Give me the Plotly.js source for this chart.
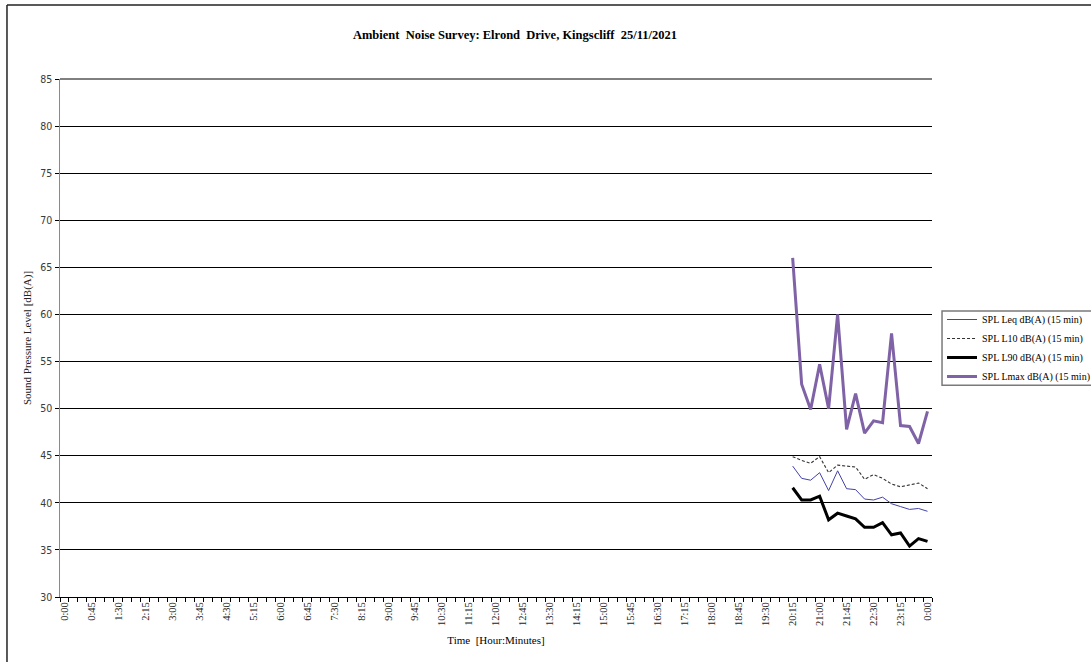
<!DOCTYPE html>
<html>
<head>
<meta charset="utf-8">
<script src="https://cdn.plot.ly/plotly-3.0.1.min.js"></script>
<style>
html,body{margin:0;padding:0;background:#fff;}
#chart{width:1091px;height:662px;}
</style>
</head>
<body>
<div id="chart"></div>
<script>
// Measurement times (15-minute intervals); "24:00" is midnight at the end of the day
const times = ["20:15","20:30","20:45","21:00","21:15","21:30","21:45","22:00",
               "22:15","22:30","22:45","23:00","23:15","23:30","23:45","24:00"];

const leq  = [43.9,42.6,42.4,43.2,41.3,43.4,41.5,41.4,40.4,40.3,40.6,39.9,39.6,39.3,39.4,39.1];
const l10  = [44.9,44.5,44.2,44.9,43.2,44.0,43.9,43.8,42.5,43.0,42.6,42.0,41.7,41.9,42.1,41.5];
const l90  = [41.6,40.3,40.3,40.7,38.2,38.9,38.6,38.3,37.4,37.4,37.9,36.6,36.8,35.4,36.2,35.9];
const lmax = [66.0,52.6,49.9,54.7,50.0,60.0,47.8,51.6,47.4,48.7,48.5,58.0,48.2,48.1,46.3,49.7];

const seriesNames = ["SPL Leq dB(A) (15 min)","SPL L10 dB(A) (15 min)",
                     "SPL L90 dB(A) (15 min)","SPL Lmax dB(A) (15 min)"];

// category axis: every 15 minutes from 0:00 to 24:00 (shown as 0:00)
const slots = [];
for (let m = 0; m <= 24*60; m += 15) {
  slots.push(Math.floor(m/60) + ":" + String(m%60).padStart(2,"0"));
}
const slotLabels = slots.map((s,i) => (i % 3 === 0) ? (s === "24:00" ? "0:00" : s) : "");

const yMin = 30, yMax = 85;

const serif = "Liberation Serif, Times New Roman, serif";

const traces = [
  {x: times, y: leq,  name: seriesNames[0], mode: "lines", line: {color: "#4343a8", width: 1}},
  {x: times, y: l10,  name: seriesNames[1], mode: "lines", line: {color: "#333333", width: 1.1, dash: "3px,2px"}},
  {x: times, y: l90,  name: seriesNames[2], mode: "lines", line: {color: "#000000", width: 3}},
  {x: times, y: lmax, name: seriesNames[3], mode: "lines", line: {color: "#7f63a6", width: 3}}
];

const layout = {
  width: 1091, height: 662,
  margin: {l: 60, r: 159, t: 79, b: 65, autoexpand: false},
  paper_bgcolor: "#ffffff", plot_bgcolor: "#ffffff",
  showlegend: true,
  title: {
    text: "<b>Ambient\u00a0 Noise Survey: Elrond\u00a0 Drive, Kingscliff\u00a0 25/11/2021</b>",
    font: {family: serif, size: 12.5, color: "#000"},
    xref: "container", x: 0.472, xanchor: "center",
    yref: "container", y: 0.947, yanchor: "middle"
  },
  xaxis: {
    type: "category",
    categoryorder: "array", categoryarray: slots,
    range: [-0.5, slots.length - 0.5],
    tickmode: "array", tickvals: slots, ticktext: slotLabels,
    tickson: "boundaries",
    ticks: "outside", ticklen: 4, tickcolor: "#000", tickwidth: 1,
    tickangle: -90,
    tickfont: {family: serif, size: 10.5, color: "#222"},
    showgrid: false, zeroline: false,
    showline: true, linecolor: "#000", linewidth: 1,
    title: {text: "Time\u00a0 [Hour:Minutes]", font: {family: serif, size: 11, color: "#000"}, standoff: 11}
  },
  yaxis: {
    range: [yMin, yMax], dtick: 5, tick0: 30,
    ticks: "outside", ticklen: 4, tickcolor: "#000",
    tickfont: {family: "Liberation Sans Narrow, DejaVu Sans Condensed, Arial Narrow, sans-serif", size: 10.5, color: "#3a3a3a"},
    showgrid: true, gridcolor: "#000", gridwidth: 1,
    zeroline: false,
    showline: true, linecolor: "#8a8a8a", linewidth: 1.5,
    title: {text: "Sound Pressure Level [dB(A)]", font: {family: serif, size: 11, color: "#222"}, standoff: 6}
  },
  legend: {
    x: 1.0115, xanchor: "left", y: 0.5637, yanchor: "top",
    bgcolor: "rgba(0,0,0,0)", bordercolor: "rgba(0,0,0,0)", borderwidth: 0,
    font: {family: serif, size: 10, color: "#000"},
    tracegroupgap: 0
  },
  shapes: [
    // top gridline (upper end of the value axis, the plot's top edge)
    {type: "line", xref: "paper", yref: "paper", x0: 0, x1: 1, y0: 1, y1: 1,
     line: {color: "#000", width: 1}, layer: "above"},
    // legend frame
    {type: "rect", xref: "paper", yref: "paper", x0: 1.0115, x1: 1.3, y0: 0.552, y1: 0.409,
     line: {color: "#7a7a7a", width: 1.5}, fillcolor: "#fff", layer: "below"},
    // chart frame
    {type: "line", xref: "paper", yref: "paper", x0: -0.0608, x1: 1.3, y0: 1.143, y1: 1.143,
     line: {color: "#222", width: 1.5}},
    {type: "line", xref: "paper", yref: "paper", x0: -0.0608, x1: -0.0608, y0: 1.143, y1: -0.2,
     line: {color: "#222", width: 1.5}}
  ]
};

Plotly.newPlot("chart", traces, layout, {displayModeBar: false, staticPlot: true});
</script>
</body>
</html>
